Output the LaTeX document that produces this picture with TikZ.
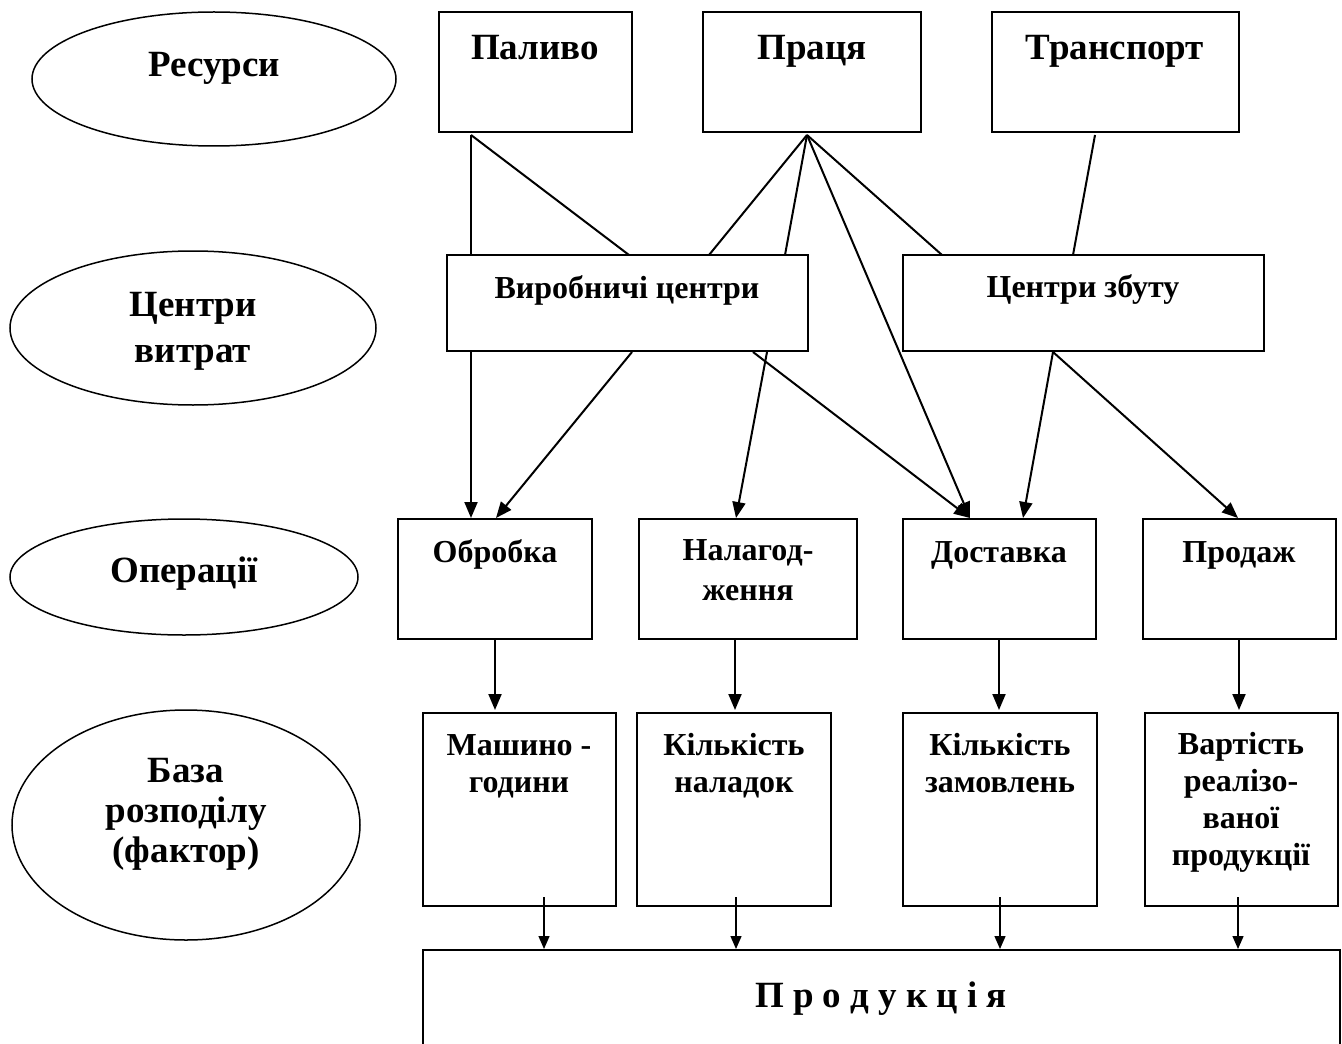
\documentclass[tikz,border=0pt]{standalone}
\usepackage{fontspec}
\setmainfont{Liberation Serif}
\usetikzlibrary{arrows.meta,shapes.geometric,fit}
\tikzset{
  box/.style={draw, rectangle, line width=1pt, inner sep=0pt},
  ell/.style={draw, ellipse, line width=0.75pt, inner sep=0pt},
  con/.style={line width=1pt},
  arr/.style={line width=1pt, -{Triangle[length=8pt,width=6.5pt]}},
  arrs/.style={line width=0.7pt, -{Triangle[length=6.5pt,width=5.5pt]}},
  txt/.style={inner sep=0pt, anchor=base, align=center},
  big/.style={txt, font=\bfseries\fontsize{18.5}{23}\selectfont},
  mid/.style={txt, font=\bfseries\fontsize{16}{19}\selectfont},
  ops/.style={txt, font=\bfseries\fontsize{16}{20}\selectfont},
  fac/.style={txt, font=\bfseries\fontsize{16}{18.5}\selectfont},
}
\begin{document}
\begin{tikzpicture}[x=0.5pt,y=-0.5pt]
\useasboundingbox (0,0) rectangle (1342,1043);
% ellipses (text nodes: base = baseline of the last line)
\node[ell, minimum width=182pt, minimum height=67pt] (eRes) at (214,79) {};
\node[big] (tRes) at (214,77) {Ресурси};
\node[ell, minimum width=183pt, minimum height=77pt] (eCen) at (193,328) {};
\node[big] (tCen) at (193,362) {Центри\\витрат};
\node[ell, minimum width=174pt, minimum height=58pt] (eOp) at (184,577) {};
\node[big] (tOp) at (184,582) {Операції};
\node[ell, minimum width=174pt, minimum height=115pt] (eBaz) at (186,825) {};
\node[big, font=\bfseries\fontsize{18.5}{20}\selectfont] (tBaz) at (186,862) {База\\розподілу\\(фактор)};
% resources
\node[box, fit={(439,12)(632,132)}] (pal) {};
\node[big] (tPal) at (535,60) {Паливо};
\node[box, fit={(703,12)(921,132)}] (pra) {};
\node[big] (tPra) at (812,60) {Праця};
\node[box, fit={(992,12)(1239,132)}] (tra) {};
\node[big] (tTra) at (1115,60) {Транспорт};
% centres
\node[box, fit={(447,255)(808,351)}] (vyr) {};
\node[mid] (tVyr) at (627,298) {Виробничі центри};
\node[box, fit={(903,255)(1264,351)}] (zbu) {};
\node[mid] (tZbu) at (1083,297) {Центри збуту};
% operations
\node[box, fit={(398,519)(592,639)}] (obr) {};
\node[ops] (tObr) at (495,562) {Обробка};
\node[box, fit={(639,519)(857,639)}] (nal) {};
\node[ops] (tNal) at (748,600) {Налагод-\\ження};
\node[box, fit={(903,519)(1096,639)}] (dos) {};
\node[ops] (tDos) at (999,562) {Доставка};
\node[box, fit={(1143,519)(1336,639)}] (prd) {};
\node[ops] (tPrd) at (1239,562) {Продаж};
% factors
\node[box, fit={(423,713)(616,906)}] (f1) {};
\node[fac] (tF1) at (519,792) {Машино -\\години};
\node[box, fit={(637,713)(831,906)}] (f2) {};
\node[fac] (tF2) at (734,792) {Кількість\\наладок};
\node[box, fit={(903,713)(1097,906)}] (f3) {};
\node[fac] (tF3) at (1000,792) {Кількість\\замовлень};
\node[box, fit={(1145,713)(1338,906)}] (f4) {};
\node[fac] (tF4) at (1241,865) {Вартість\\реалізо-\\ваної\\продукції};
% product
\node[box, fit={(423,950)(1340,1060)}] (prod) {};
\node[txt, font=\bfseries\fontsize{18.5}{22}\selectfont] (tProd) at (881,1007) {П р о д у к ц і я};
% attachment points
\coordinate (palO) at (471,135);
\coordinate (praO) at (807,135);
\coordinate (traO) at (1095,135);
\coordinate (vyrA) at (471,255);
\coordinate (vyrB) at (629,255);
\coordinate (vyrC) at (709,255);
\coordinate (vyrD) at (785,255);
\coordinate (zbuA) at (942,255);
\coordinate (zbuB) at (1073,255);
\coordinate (vyr1) at (471,352);
\coordinate (vyr2) at (632,352);
\coordinate (vyr3) at (753,352);
\coordinate (vyr4) at (767,352);
\coordinate (zbu1) at (1053,352);
\coordinate (obrA) at (471,518);
\coordinate (obrB) at (496,518);
\coordinate (nalA) at (736,518);
\coordinate (dosA) at (970,518);
\coordinate (dosB) at (1023,518);
\coordinate (prdA) at (1238,518);
% resources -> centres
\draw[con] (palO) -- (vyrA);
\draw[con] (palO) -- (vyrB);
\draw[con] (praO) -- (vyrC);
\draw[con] (praO) -- (vyrD);
\draw[con] (praO) -- (zbuA);
\draw[arr] (praO) -- (dosA);
\draw[con] (traO) -- (zbuB);
% centres -> operations
\draw[arr] (vyr1) -- (obrA);
\draw[arr] (vyr2) -- (obrB);
\draw[arr] (vyr4) -- (nalA);
\draw[arr] (vyr3) -- (dosA);
\draw[arr] (zbu1) -- (dosB);
\draw[arr] (zbu1) -- (prdA);
% operations -> factors
\draw[arr] (obr.south -| 495,0) -- (495,710);
\draw[arr] (nal.south -| 735,0) -- (735,710);
\draw[arr] (dos.south -| 999,0) -- (999,710);
\draw[arr] (prd.south -| 1239,0) -- (1239,710);
% factors -> product
\coordinate (p1) at (544,897);
\coordinate (p2) at (736,897);
\coordinate (p3) at (1000,897);
\coordinate (p4) at (1238,897);
\draw[arrs] (p1) -- (p1 |- prod.north);
\draw[arrs] (p2) -- (p2 |- prod.north);
\draw[arrs] (p3) -- (p3 |- prod.north);
\draw[arrs] (p4) -- (p4 |- prod.north);
\end{tikzpicture}
\end{document}
